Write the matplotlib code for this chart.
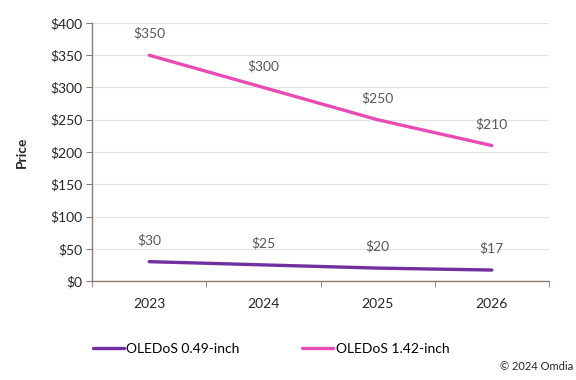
import numpy as np
import matplotlib.pyplot as plt
from matplotlib.ticker import FuncFormatter, FixedLocator

plt.rcParams['font.family'] = ['Lato', 'DejaVu Sans']

anos = ["2023", "2024", "2025", "2026"]
preco_049 = [30, 25, 20, 17]
preco_142 = [350, 300, 250, 210]
rotulos_y = [0, 50, 100, 150, 200, 250, 300, 350, 400]

cor_roxo = "#7030A0"
cor_rosa = "#E84CB4"
cor_eixo = "#8C7B70"
cor_texto = "#595959"

fig = plt.figure(figsize=(5.76, 3.8), dpi=100)
ax = fig.add_axes([0.16, 0.2605, 0.793, 0.679])

x = np.arange(len(anos))
ax.plot(x, preco_049, color=cor_roxo, lw=2.4, solid_capstyle="round", label="OLEDoS 0.49-inch")
ax.plot(x, preco_142, color=cor_rosa, lw=2.4, solid_capstyle="round", label="OLEDoS 1.42-inch")

for xi, v in zip(x, preco_049):
    ax.annotate(f"${v}", (xi, v), xytext=(0, 11), textcoords="offset points",
                ha="center", va="bottom", fontsize=10, color=cor_texto)
for xi, v in zip(x, preco_142):
    ax.annotate(f"${v}", (xi, v), xytext=(0, 11), textcoords="offset points",
                ha="center", va="bottom", fontsize=10, color=cor_texto)

ax.set_xlim(-0.5, len(anos) - 0.5)
ax.set_ylim(0, 400)
ax.set_yticks(rotulos_y)
ax.yaxis.set_major_formatter(FuncFormatter(lambda v, p: f"${int(v)}"))
ax.set_xticks(x)
ax.set_xticklabels(anos)
ax.xaxis.set_minor_locator(FixedLocator(np.arange(len(anos) + 1) - 0.5))
ax.tick_params(axis="x", which="major", length=0, pad=12, labelsize=10, labelcolor="#262626")
ax.tick_params(axis="x", which="minor", length=4, color=cor_eixo, direction="out")
ax.tick_params(axis="y", length=4, color=cor_eixo, labelsize=10, labelcolor="#262626", pad=3)

ax.grid(axis="y", color="#E3E3E3", lw=0.9)
ax.set_axisbelow(True)
for s in ["top", "right"]:
    ax.spines[s].set_visible(False)
for s in ["left", "bottom"]:
    ax.spines[s].set_color(cor_eixo)
    ax.spines[s].set_linewidth(1.0)

ax.set_ylabel("Price", fontsize=10, fontweight="bold", color="#262626", labelpad=16)

fig.legend(loc="center left", bbox_to_anchor=(0.14, 0.082), ncol=2, frameon=False,
           fontsize=10, handlelength=2.2, handletextpad=0.2, columnspacing=4.5)
fig.text(0.995, 0.035, "© 2024 Omdia", ha="right", va="center", fontsize=8, color="#262626")

fig.savefig("out.png", dpi=100)
